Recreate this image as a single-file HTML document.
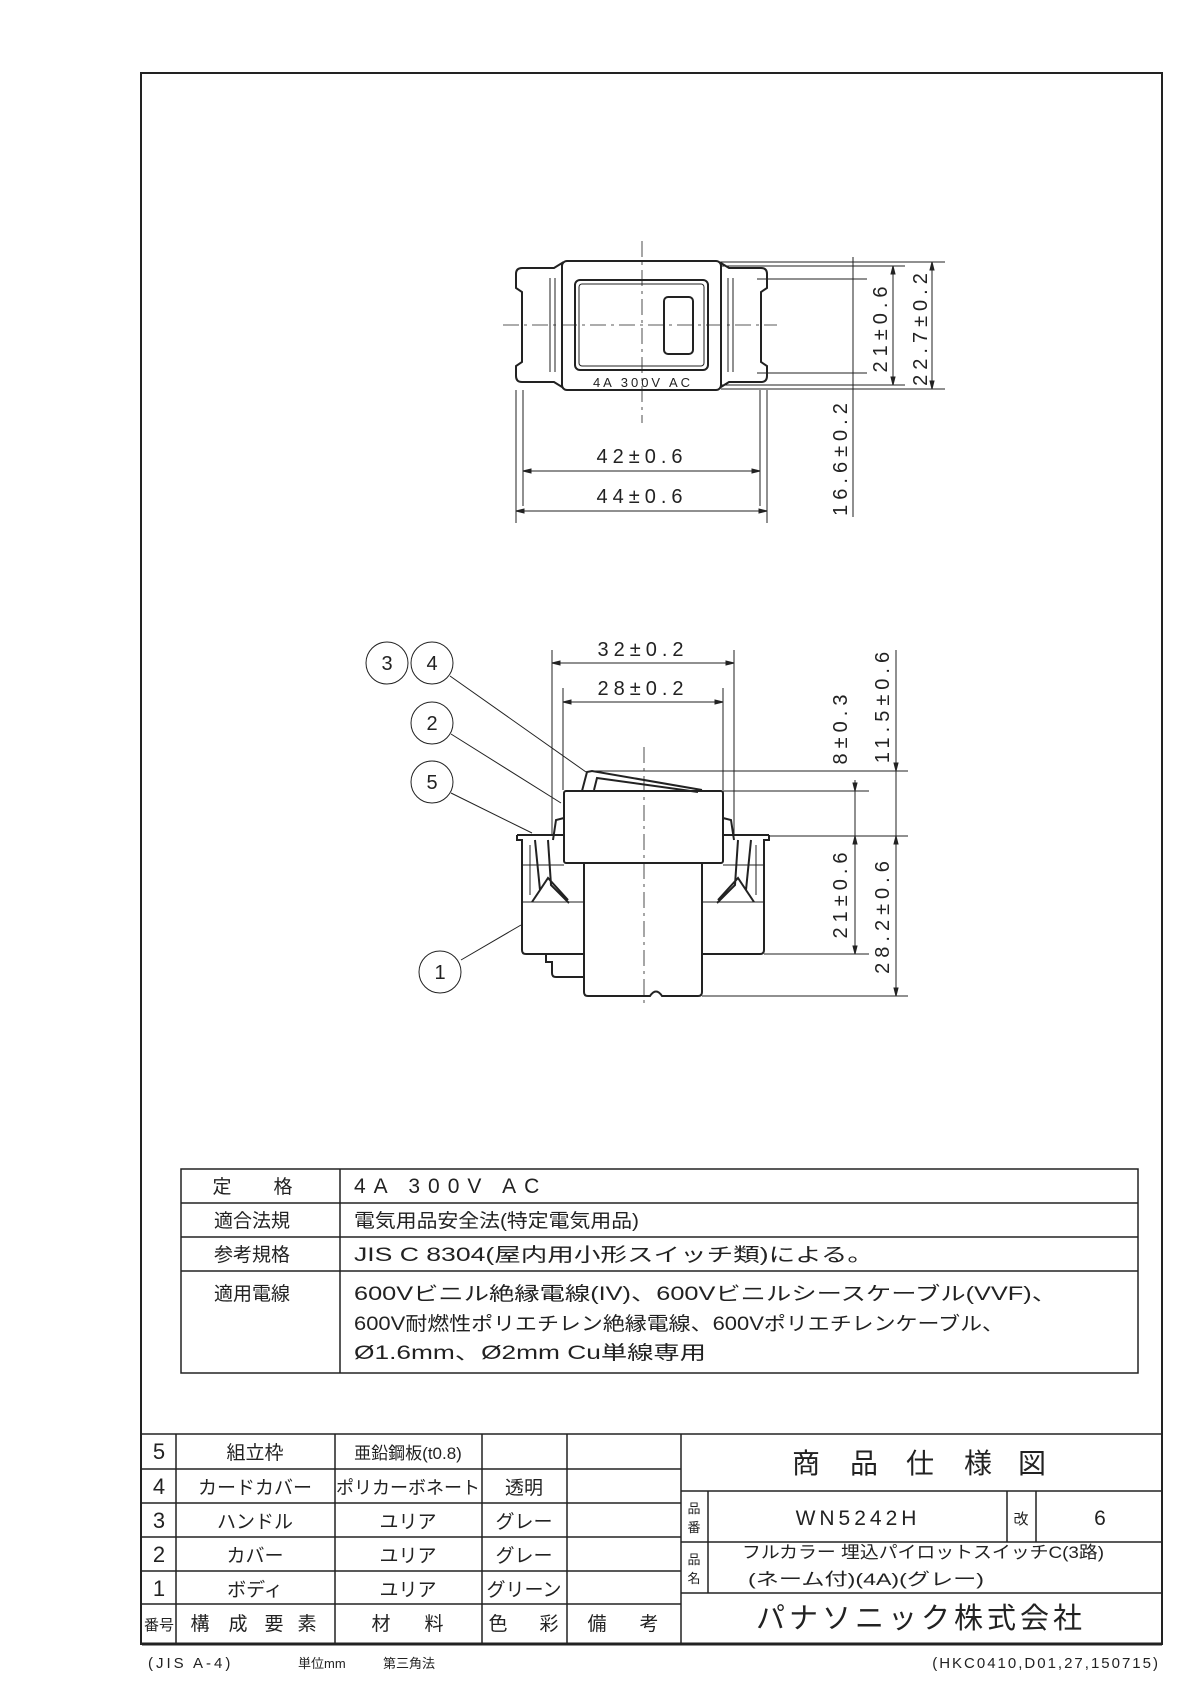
<!DOCTYPE html>
<html><head><meta charset="utf-8"><style>
html,body{margin:0;padding:0;background:#fff;}
svg{display:block;}
text{font-family:"Liberation Sans","Noto Sans CJK JP",sans-serif;fill:#222;}
</style></head><body>
<svg width="1190" height="1683" viewBox="0 0 1190 1683" xmlns="http://www.w3.org/2000/svg">
<g fill="none" stroke="#222" stroke-width="1">
<rect x="141" y="73" width="1021" height="1571" stroke-width="2"/>

<!-- TOP VIEW -->
<g stroke-width="2">
<path d="M522,268 h32 l8,-5 v124 l-8,-5 h-32 q-6,0 -6,-6 v-10 l6,-4 v-70 l-6,-4 v-14 q0,-6 6,-6z"/>
<path d="M761,268 h-32 l-8,-5 v124 l8,-5 h32 q6,0 6,-6 v-10 l-6,-4 v-70 l6,-4 v-14 q0,-6 -6,-6z"/>
<rect x="562" y="261" width="159" height="129" rx="5"/>
<rect x="575" y="280" width="133" height="90" rx="5"/>
<rect x="664" y="297" width="29" height="57" rx="4"/>
</g>
<rect x="579" y="284" width="125" height="82" rx="3"/>
<path d="M550,278 v94 M555,278 v94 M733,278 v94 M728,278 v94"/>
<path d="M642,241 V423 M503,325 H777" stroke-dasharray="16,5,3,5" stroke-width="0.8"/>
<path d="M523,390 V506 M760,390 V506 M516,390 V523 M767,390 V523"/>
<path d="M523,471 H760 M516,511 H767"/>
<path d="M523,471 l8,-2 v4z M760,471 l-8,-2 v4z M516,511 l8,-2 v4z M767,511 l-8,-2 v4z" fill="#222"/>
<path d="M721,262 H945 M721,389 H945 M721,266 H905 M721,385 H905 M757,279 H867 M757,373 H867"/>
<path d="M893,266 V385 M932,262 V389 M853,257 V517"/>
<path d="M893,266 l-2,8 h4z M893,385 l-2,-8 h4z M932,262 l-2,8 h4z M932,389 l-2,-8 h4z" fill="#222"/>

<!-- SIDE VIEW -->
<circle cx="387" cy="663" r="21"/><circle cx="432" cy="663" r="21"/>
<circle cx="432" cy="723" r="21"/><circle cx="432" cy="782" r="21"/><circle cx="440" cy="972" r="21"/>
<path d="M450,676 L586,772 M451,734 L561,803 M451,793 L532,833 M461,960 L521,925"/>
<g stroke-width="2">
<rect x="564" y="791" width="159" height="72" rx="2"/>
<path d="M582,791 L587,772 L592,771 L702,790"/>
<path d="M594,790 L597,778 L698,792"/>
<path d="M584,863 V992 q0,4 4,4 H650 q6,-9 12,0 H698 q4,0 4,-4 V863"/>
<path d="M522,840 V950 q0,4 4,4 H584 M702,954 H760 q4,0 4,-4 V840"/>
<path d="M546,954 V962 H552 V973 q0,4 4,4 H584"/>
<path d="M517,835 H564 M723,835 H769 M517,835 v5 h6 M769,835 v5 h-6"/>
<path d="M535,840 l5,50 l-8,12 M548,840 l3,45 l18,18 M540,890 l8,-12 l20,22"/>
<path d="M751,840 l-5,50 l8,12 M738,840 l-3,45 l-18,18 M746,890 l-8,-12 l-20,22"/>
<path d="M564,818 l-8,2 l-3,20 M723,818 l8,2 l3,20"/>
</g>
<path d="M522,865 H564 M723,865 H764 M522,902 H584 M702,902 H764 M530,845 V895 M756,845 V895"/>
<path d="M644,747 V1005" stroke-dasharray="16,5,3,5" stroke-width="0.8"/>
<path d="M552,650 V836 M734,650 V836 M563,688 V790 M723,688 V790"/>
<path d="M552,663 H734 M563,702 H723"/>
<path d="M552,663 l8,-2 v4z M734,663 l-8,-2 v4z M563,702 l8,-2 v4z M723,702 l-8,-2 v4z" fill="#222"/>
<path d="M592,771 H908 M723,791 H869 M769,836 H908 M764,954 H869 M702,996 H908"/>
<path d="M855,780 V954 M896,650 V996"/>
<path d="M855,791 l-2,-8 h4z M855,836 l-2,8 h4z M855,954 l-2,-8 h4z M896,771 l-2,-8 h4z M896,836 l-2,8 h4z M896,996 l-2,-8 h4z" fill="#222"/>

<!-- spec table -->
<rect x="181" y="1169" width="957" height="204" stroke-width="1.5"/>
<path d="M340,1169 V1373 M181,1203 H1138 M181,1237 H1138 M181,1271 H1138" stroke-width="1.5"/>

<!-- parts table -->
<path d="M142,1434 H1162 V1644 H142 M176,1434 V1644 M335,1434 V1644 M482,1434 V1644 M567,1434 V1644 M681,1434 V1644 M142,1469 H681 M142,1503 H681 M142,1537 H681 M142,1571 H681 M142,1604 H681 M681,1491 H1162 M681,1542 H1162 M681,1593 H1162 M708,1491 V1593 M1007,1491 V1542 M1036,1491 V1542" stroke-width="1.5"/>
<path d="M142,1644 H1162" stroke-width="3"/>
</g>

<g font-size="13" text-anchor="middle">
<text x="643" y="387" letter-spacing="3">4A 300V AC</text>
</g>
<g font-size="20" text-anchor="middle" fill="#333">
<text x="642" y="463" letter-spacing="5">42±0.6</text>
<text x="642" y="503" letter-spacing="5">44±0.6</text>
<text transform="translate(887,327) rotate(-90)" letter-spacing="5">21±0.6</text>
<text transform="translate(927,327) rotate(-90)" letter-spacing="5">22.7±0.2</text>
<text transform="translate(847,457) rotate(-90)" letter-spacing="5">16.6±0.2</text>
<text x="643" y="656" letter-spacing="5">32±0.2</text>
<text x="643" y="695" letter-spacing="5">28±0.2</text>
<text transform="translate(847,727) rotate(-90)" letter-spacing="5">8±0.3</text>
<text transform="translate(889,705) rotate(-90)" letter-spacing="5">11.5±0.6</text>
<text transform="translate(847,893) rotate(-90)" letter-spacing="5">21±0.6</text>
<text transform="translate(889,915) rotate(-90)" letter-spacing="5">28.2±0.6</text>
<text x="387" y="670">3</text><text x="432" y="670">4</text>
<text x="432" y="730">2</text><text x="432" y="789">5</text><text x="440" y="979">1</text>
</g>
<g font-size="19" fill="#333">
<text x="222" y="1193" text-anchor="middle">定</text><text x="283" y="1193" text-anchor="middle">格</text>
<text x="252" y="1227" text-anchor="middle">適合法規</text>
<text x="252" y="1261" text-anchor="middle">参考規格</text>
<text x="252" y="1300" text-anchor="middle">適用電線</text>
<text x="354" y="1193" font-size="21" letter-spacing="8">4A 300V AC</text>
<text x="354" y="1227" textLength="285" lengthAdjust="spacingAndGlyphs">電気用品安全法(特定電気用品)</text>
<text x="354" y="1261" textLength="520" lengthAdjust="spacingAndGlyphs">JIS  C  8304(屋内用小形スイッチ類)による。</text>
<text x="354" y="1300" textLength="703" lengthAdjust="spacingAndGlyphs">600Vビニル絶縁電線(IV)、600Vビニルシースケーブル(VVF)、</text>
<text x="354" y="1330" textLength="650" lengthAdjust="spacingAndGlyphs">600V耐燃性ポリエチレン絶縁電線、600Vポリエチレンケーブル、</text>
<text x="354" y="1359" textLength="352" lengthAdjust="spacingAndGlyphs">Ø1.6mm、Ø2mm  Cu単線専用</text>
</g>
<g font-size="19" fill="#333" text-anchor="middle">
<text x="159" y="1459" font-size="22">5</text><text x="159" y="1494" font-size="22">4</text><text x="159" y="1528" font-size="22">3</text><text x="159" y="1562" font-size="22">2</text><text x="159" y="1596" font-size="22">1</text>
<text x="159" y="1630" font-size="15">番号</text>
<text x="255" y="1459">組立枠</text><text x="255" y="1494">カードカバー</text><text x="255" y="1528">ハンドル</text><text x="255" y="1562">カバー</text><text x="255" y="1596">ボディ</text>
<text x="200" y="1630">構</text><text x="238" y="1630">成</text><text x="274" y="1630">要</text><text x="307" y="1630">素</text>
<text x="408" y="1459" font-size="17">亜鉛鋼板(t0.8)</text><text x="408" y="1494" font-size="18">ポリカーボネート</text><text x="408" y="1528">ユリア</text><text x="408" y="1562">ユリア</text><text x="408" y="1596">ユリア</text>
<text x="381" y="1630">材</text><text x="434" y="1630">料</text>
<text x="524" y="1494">透明</text><text x="524" y="1528">グレー</text><text x="524" y="1562">グレー</text><text x="524" y="1596">グリーン</text>
<text x="498" y="1630">色</text><text x="549" y="1630">彩</text>
<text x="597" y="1630">備</text><text x="649" y="1630">考</text>
<g font-size="28"><text x="806" y="1473">商</text><text x="864" y="1473">品</text><text x="920" y="1473">仕</text><text x="978" y="1473">様</text><text x="1032" y="1473">図</text></g>
<text x="694" y="1513" font-size="13">品</text><text x="694" y="1532" font-size="13">番</text>
<text x="694" y="1564" font-size="13">品</text><text x="694" y="1583" font-size="13">名</text>
<text x="858" y="1525" font-size="21" letter-spacing="4">WN5242H</text>
<text x="1021" y="1524" font-size="15">改</text>
<text x="1100" y="1525" font-size="21">6</text>
</g>
<g font-size="17" fill="#333">
<text x="742" y="1558" textLength="362" lengthAdjust="spacingAndGlyphs">フルカラー 埋込パイロットスイッチC(3路)</text>
<text x="748" y="1585" textLength="236" lengthAdjust="spacingAndGlyphs">(ネーム付)(4A)(グレー)</text>
<text x="921" y="1628" font-size="29" letter-spacing="4" text-anchor="middle">パナソニック株式会社</text>
</g>
<g font-size="15" fill="#333">
<text x="148" y="1668" letter-spacing="3">(JIS A-4)</text>
<text x="298" y="1668" font-size="13">単位mm</text>
<text x="383" y="1668" font-size="13">第三角法</text>
<text x="1160" y="1668" text-anchor="end" letter-spacing="2">(HKC0410,D01,27,150715)</text>
</g>
</svg>
</body></html>
